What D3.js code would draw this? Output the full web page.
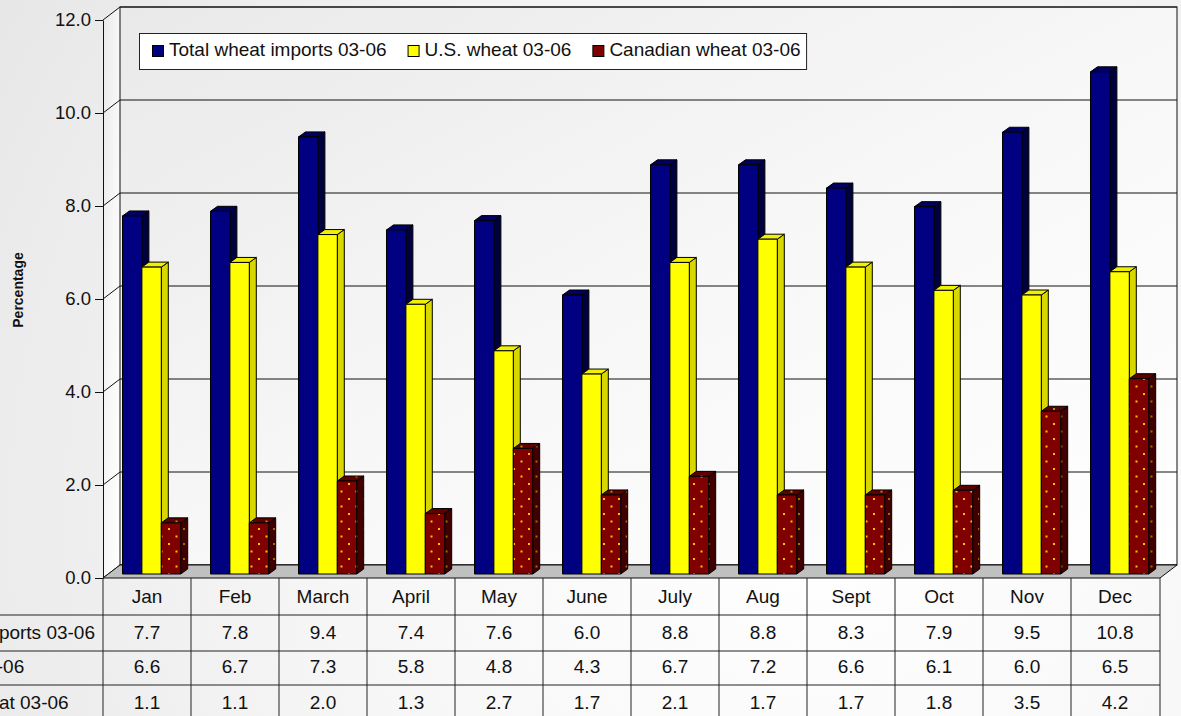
<!DOCTYPE html>
<html>
<head>
<meta charset="utf-8">
<script src="https://cdn.jsdelivr.net/npm/d3@7/dist/d3.min.js"></script>
<style>
  html, body { margin: 0; padding: 0; background: #fff; }
  svg { display: block; font-family: "Liberation Sans", Arial, sans-serif; }
</style>
</head>
<body>
<svg id="chart" width="1181" height="716"></svg>
<script>
// Monthly share of wheat imports, 2003-06 averages
const months = ["Jan", "Feb", "March", "April", "May", "June", "July", "Aug", "Sept", "Oct", "Nov", "Dec"];
const totalWheat = [7.7, 7.8, 9.4, 7.4, 7.6, 6.0, 8.8, 8.8, 8.3, 7.9, 9.5, 10.8];
const usWheat = [6.6, 6.7, 7.3, 5.8, 4.8, 4.3, 6.7, 7.2, 6.6, 6.1, 6.0, 6.5];
const canadianWheat = [1.1, 1.1, 2.0, 1.3, 2.7, 1.7, 2.1, 1.7, 1.7, 1.8, 3.5, 4.2];
const seriesNames = ["Total wheat imports 03-06", "U.S. wheat 03-06", "Canadian wheat 03-06"];
const yTicks = [0, 2, 4, 6, 8, 10, 12];
const axisTitle = "Percentage";

const seriesValues = [totalWheat, usWheat, canadianWheat];

const W = 1181, H = 716;
const svg = d3.select("#chart");
const defs = svg.append("defs");

// ---- gradients and patterns ----
const bg = defs.append("radialGradient").attr("id", "bgGrad")
  .attr("gradientUnits", "userSpaceOnUse")
  .attr("cx", 820).attr("cy", 520).attr("r", 1000);
bg.append("stop").attr("offset", "0").attr("stop-color", "#ffffff");
bg.append("stop").attr("offset", "0.5").attr("stop-color", "#f6f6f6");
bg.append("stop").attr("offset", "1").attr("stop-color", "#e6e6e6");

const wallGrad = defs.append("linearGradient").attr("id", "wallGrad")
  .attr("x1", "0").attr("y1", "0").attr("x2", "1").attr("y2", "1");
wallGrad.append("stop").attr("offset", "0").attr("stop-color", "#e9e9e9");
wallGrad.append("stop").attr("offset", "0.5").attr("stop-color", "#f7f7f7");
wallGrad.append("stop").attr("offset", "1").attr("stop-color", "#ffffff");

function dotPattern(id, base, dot) {
  const p = defs.append("pattern").attr("id", id)
    .attr("patternUnits", "userSpaceOnUse")
    .attr("width", 15).attr("height", 15);
  p.append("rect").attr("width", 15).attr("height", 15).attr("fill", base);
  p.append("rect").attr("x", 3).attr("y", 3).attr("width", 2).attr("height", 2).attr("fill", dot);
  p.append("rect").attr("x", 10.5).attr("y", 10.5).attr("width", 2).attr("height", 2).attr("fill", dot);
}
dotPattern("canFront", "#800000", "#ffc400");
dotPattern("canSide", "#400000", "#9a7000");
dotPattern("canTop", "#5c0000", "#c09000");

svg.append("rect").attr("width", W).attr("height", H).attr("fill", "url(#bgGrad)");

// ---- scales ----
const plotLeft = 103, plotRight = 1159;
const x = d3.scaleBand().domain(months).range([plotLeft, plotRight]).padding(0);
const y = d3.scaleLinear().domain([0, 12]).range([578, 20]);   // front plane (axis)
const DX = 17, DY = -13;                                         // box depth
const BAR_SHIFT = -4;                                            // bar plane inside box
const BDX = 7, BDY = -5;                                         // bar depth
const inner = d3.scaleBand().domain(d3.range(seriesNames.length))
  .range([19.5, 19.5 + 3 * 19.4]).padding(0);

const fontFamily = '"Liberation Sans", Arial, sans-serif';

// ---- walls ----
const y0 = y(0), yTop = y(12);
svg.append("polygon")
  .attr("points", [[plotLeft, y0], [plotLeft + DX, y0 + DY], [plotLeft + DX, yTop + DY], [plotLeft, yTop]].join(" "))
  .attr("fill", "url(#wallGrad)").attr("stroke", "none");
svg.append("rect")
  .attr("x", plotLeft + DX).attr("y", yTop + DY)
  .attr("width", plotRight + 1 + DX - (plotLeft + DX)).attr("height", y0 - yTop)
  .attr("fill", "url(#wallGrad)").attr("stroke", "#111").attr("stroke-width", 1);

// gridlines on back wall + diagonals on side wall
const grid = svg.append("g").attr("stroke", "#111").attr("stroke-width", 1).attr("fill", "none");
yTicks.forEach(v => {
  const yf = y(v);
  grid.append("line")
    .attr("x1", plotLeft + DX).attr("x2", plotRight + 1 + DX)
    .attr("y1", yf + DY).attr("y2", yf + DY);
  grid.append("line")
    .attr("x1", plotLeft).attr("y1", yf)
    .attr("x2", plotLeft + DX).attr("y2", yf + DY);
});

// floor
svg.append("polygon")
  .attr("points", [[plotLeft, y0], [plotRight + 1, y0], [plotRight + 1 + DX, y0 + DY], [plotLeft + DX, y0 + DY]].join(" "))
  .attr("fill", "#c0c0c0").attr("stroke", "#111").attr("stroke-width", 1);

// ---- bars ----
const styles = [
  { front: "#000080", side: "#00003f", top: "#000060" },
  { front: "#ffff00", side: "#d8d800", top: "#f0f000" },
  { front: "url(#canFront)", side: "url(#canSide)", top: "url(#canTop)" }
];

const bars = svg.append("g").attr("stroke", "#000").attr("stroke-width", 1).attr("stroke-linejoin", "round");
months.forEach((m, mi) => {
  seriesValues.forEach((vals, si) => {
    const v = vals[mi];
    const bx = x(m) + inner(si);
    const bw = inner.bandwidth();
    const yb = y(0) + BAR_SHIFT;
    const yt = y(v) + BAR_SHIFT;
    const g = bars.append("g");
    // side face
    g.append("polygon")
      .attr("points", [[bx + bw, yb], [bx + bw + BDX, yb + BDY], [bx + bw + BDX, yt + BDY], [bx + bw, yt]].join(" "))
      .attr("fill", styles[si].side);
    // top face
    g.append("polygon")
      .attr("points", [[bx, yt], [bx + BDX, yt + BDY], [bx + bw + BDX, yt + BDY], [bx + bw, yt]].join(" "))
      .attr("fill", styles[si].top);
    // front face
    g.append("rect")
      .attr("x", bx).attr("y", yt).attr("width", bw).attr("height", yb - yt)
      .attr("fill", styles[si].front);
  });
});

// ---- value axis ----
const axis = svg.append("g")
  .attr("transform", `translate(${plotLeft},0)`)
  .call(d3.axisLeft(y).tickValues(yTicks).tickFormat(d3.format(".1f"))
    .tickSize(8).tickSizeOuter(0).tickPadding(4));
axis.select(".domain").attr("stroke", "#111");
axis.selectAll(".tick line").attr("stroke", "#111");
axis.selectAll(".tick text")
  .attr("font-family", fontFamily).attr("font-size", 18.5).attr("fill", "#111");

svg.append("text")
  .attr("transform", "translate(23,290) rotate(-90)")
  .attr("text-anchor", "middle")
  .attr("font-family", fontFamily).attr("font-size", 14).attr("font-weight", "bold")
  .attr("fill", "#111")
  .text(axisTitle);

// ---- data table ----
const rowLines = [615, 651, 685];
const tableBottom = H + 1;
const tbl = svg.append("g").attr("stroke", "#222").attr("stroke-width", 1);
rowLines.forEach(ry => {
  tbl.append("line").attr("x1", -5).attr("x2", plotRight + 1).attr("y1", ry).attr("y2", ry);
});
months.forEach(m => {
  tbl.append("line").attr("x1", x(m)).attr("x2", x(m)).attr("y1", y0).attr("y2", tableBottom);
});
tbl.append("line").attr("x1", plotRight + 1).attr("x2", plotRight + 1).attr("y1", y0).attr("y2", tableBottom);

const tText = svg.append("g")
  .attr("font-family", fontFamily).attr("font-size", 19).attr("fill", "#111");

tText.selectAll("text.month").data(months).join("text")
  .attr("class", "month")
  .attr("x", d => x(d) + x.bandwidth() / 2).attr("y", 603)
  .attr("text-anchor", "middle").text(d => d);

const rowBase = [639, 673, 709];
seriesValues.forEach((vals, si) => {
  tText.selectAll(`text.v${si}`).data(vals).join("text")
    .attr("class", `v${si}`)
    .attr("x", (d, i) => x(months[i]) + x.bandwidth() / 2).attr("y", rowBase[si])
    .attr("text-anchor", "middle").text(d => d3.format(".1f")(d));
});

// row labels: left aligned, first label ends just before the value axis
const probe = tText.append("text").attr("x", 0).attr("y", -100).text(seriesNames[0]);
const labelStart = 95 - probe.node().getComputedTextLength();
probe.remove();
seriesNames.forEach((name, si) => {
  tText.append("text").attr("x", labelStart).attr("y", rowBase[si])
    .attr("text-anchor", "start").text(name);
});

// ---- legend ----
const legend = svg.append("g").attr("font-family", fontFamily).attr("font-size", 19);
const legendBox = legend.append("rect")
  .attr("x", 139.5).attr("y", 33.5).attr("height", 36)
  .attr("fill", "#fff").attr("stroke", "#222").attr("stroke-width", 1);
const swatchFill = ["#000080", "#ffff00", "#800000"];
let lx = 152;
seriesNames.forEach((name, si) => {
  legend.append("rect")
    .attr("x", lx + 0.5).attr("y", 45.5).attr("width", 11).attr("height", 11)
    .attr("fill", swatchFill[si]).attr("stroke", "#000").attr("stroke-width", 1);
  const t = legend.append("text").attr("x", lx + 17).attr("y", 56).attr("fill", "#111").text(name);
  const w = t.node().getComputedTextLength();
  lx = lx + 17 + w + 21;
  if (si === seriesNames.length - 1) {
    legendBox.attr("width", lx - 21 + 6 - 139.5);
  }
});
</script>
</body>
</html>
